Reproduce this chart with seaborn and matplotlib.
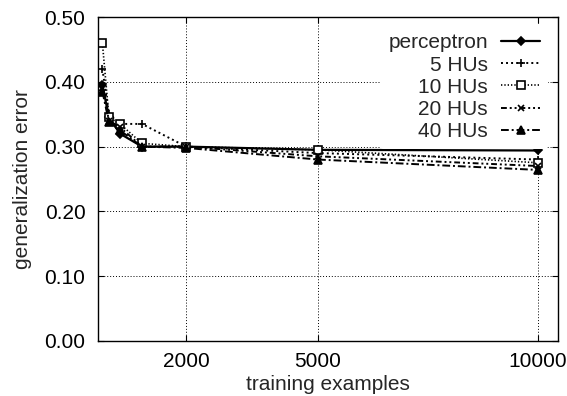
import numpy as np
import pandas as pd
import matplotlib
matplotlib.use("Agg")
import matplotlib.pyplot as plt
import seaborn as sns

examples = [100, 250, 500, 1000, 2000, 5000, 10000]
series_names = ["perceptron", "5 HUs", "10 HUs", "20 HUs", "40 HUs"]
perceptron = [0.395, 0.345, 0.320, 0.300, 0.300, 0.295, 0.294]
hu5 = [0.420, 0.350, 0.335, 0.335, 0.300, 0.290, 0.280]
hu10 = [0.460, 0.345, 0.335, 0.305, 0.300, 0.295, 0.275]
hu20 = [0.390, 0.340, 0.330, 0.300, 0.300, 0.285, 0.270]
hu40 = [0.385, 0.338, 0.325, 0.300, 0.298, 0.280, 0.264]
x_ticks = [2000, 5000, 10000]
y_ticks = [0.0, 0.1, 0.2, 0.3, 0.4, 0.5]

sns.set_style("ticks")
plt.rcParams["font.family"] = ["Liberation Sans", "DejaVu Sans"]
fs = 15

fig = plt.figure(figsize=(5.67, 3.96), dpi=100)
ax = fig.add_axes([0.1728, 0.139, 0.8113, 0.818])

styles = {
    "perceptron": dict(marker="D", dashes=None, ms=4.5, mfc="black", lw=1.6),
    "5 HUs": dict(marker="+", dashes=(1, 1.6), ms=6, mfc="black", lw=1.4),
    "10 HUs": dict(marker="s", dashes=(0.8, 1.2), ms=5.5, mfc="white", lw=1.2),
    "20 HUs": dict(marker="x", dashes=(3, 1.5, 1, 1.5, 1, 1.5), ms=4.5, mfc="black", lw=1.4),
    "40 HUs": dict(marker="^", dashes=(4, 1.5, 1, 1.5), ms=5.5, mfc="black", lw=1.4),
}

handles = []
for name, vals in zip(series_names, [perceptron, hu5, hu10, hu20, hu40]):
    st = styles[name]
    df = pd.DataFrame({"examples": examples, "error": vals})
    sns.lineplot(data=df, x="examples", y="error", color="black",
                 marker=st["marker"], markersize=st["ms"],
                 markerfacecolor=st["mfc"], markeredgecolor="black",
                 markeredgewidth=1.2, linewidth=st["lw"], ax=ax)
    line = ax.lines[-1]
    if st["dashes"] is not None:
        line.set_dashes(st["dashes"])
    handles.append(line)

ax.set_xlim(0, 10450)
ax.set_ylim(0, 0.5)
ax.set_xticks(x_ticks)
ax.set_yticks(y_ticks)
ax.set_yticklabels([f"{t:.2f}" for t in y_ticks])
ax.tick_params(direction="in", length=4, width=0.8, labelsize=fs,
               top=True, right=True, colors="black")
ax.tick_params(axis="y", pad=9)
ax.tick_params(axis="x", pad=8)
ax.grid(True, linestyle=(0, (1, 2)), color="black", linewidth=0.7)
for s in ax.spines.values():
    s.set_linewidth(1.0)
    s.set_color("black")
ax.set_xlabel("training examples", fontsize=fs, labelpad=3)
ax.set_ylabel("generalization error", fontsize=fs, labelpad=9)

leg = ax.legend(handles, series_names, loc="upper right", markerfirst=False,
                frameon=True, fontsize=fs, handlelength=1.85, handletextpad=0.65,
                labelspacing=0.15, borderaxespad=0, bbox_to_anchor=(0.979, 0.975))
leg.get_frame().set_facecolor("white")
leg.get_frame().set_edgecolor("none")
leg.get_frame().set_alpha(1)

fig.savefig("out.png", dpi=100)
